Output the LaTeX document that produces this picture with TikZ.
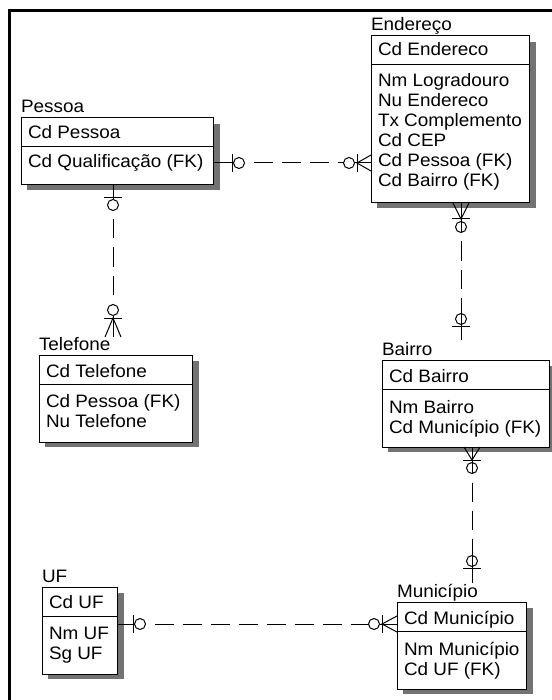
\documentclass[tikz,border=0pt]{standalone}
\usepackage{fontspec}
\setmainfont{Liberation Sans}[FakeStretch=1.05]
\usetikzlibrary{calc}
\newcommand{\erfont}{\fontsize{18}{20}\selectfont}
\tikzset{
  entbox/.style={draw, line width=1pt, fill=white, inner sep=0pt, outer sep=0pt, anchor=north west},
  shadowfill/.style={fill=black!55, draw=none},
  lbl/.style={anchor=base west, inner sep=0pt, outer sep=0pt, font=\erfont},
  rel/.style={line width=1pt},
  reldash/.style={line width=1pt, dash pattern=on 19pt off 9pt, dash phase=19pt},
}
% entity: name, left, top, width, number of attribute rows, title
\newcommand{\erentity}[6]{%
  \pgfmathsetmacro{\erh}{52+20*(#5-1)+15}
  \fill[shadowfill] (#2+6,#3+6) rectangle (#2+#4+7,#3+\erh+5);
  \node[entbox, minimum width=#4pt, minimum height=\erh pt] (#1) at (#2,#3) {};
  \draw[line width=1pt] (#2,#3+29) -- (#2+#4,#3+29);
  \node[lbl] (#1-title) at (#2,#3-5) {#6};
}
\newcommand{\errow}[4]{\node[lbl] (#1) at (#2,#3) {#4};}
% one end: point, angle, tick distance, out name
\newcommand{\onemark}[4]{%
  \begin{scope}[shift={(#1)}, rotate=#2, x=1pt, y=1pt]
    \draw[rel] (0,0) -- (#3+1.5,0);
    \draw[rel] (#3,-9) -- (#3,9);
    \draw[rel] (#3+7,0) circle[radius=5.5];
    \coordinate (#4i) at (#3+1.5,0);
    \coordinate (#4) at (#3+12.5,0);
  \end{scope}}
% many end: point, angle, junction distance, out name
\newcommand{\manymark}[4]{%
  \begin{scope}[shift={(#1)}, rotate=#2, x=1pt, y=1pt]
    \draw[rel] (0,8) -- (#3,0) -- (0,-8);
    \draw[rel] (0,0) -- (#3+2.5,0);
    \draw[rel] (#3,-9) -- (#3,9);
    \draw[rel] (#3+8,0) circle[radius=5.5];
    \coordinate (#4i) at (#3+2.5,0);
    \coordinate (#4) at (#3+13.5,0);
  \end{scope}}
\begin{document}
\begin{tikzpicture}[x=1pt, y=-1pt]
\useasboundingbox (0,0) rectangle (551,700);
\fill[white] (0,0) rectangle (551,700);
\draw[line width=3pt] (9,702) -- (9,11) -- (553,11);

% Pessoa
\erentity{pessoa}{21}{118}{192}{1}{Pessoa}
\errow{pessoa-k}{28}{139}{Cd Pessoa}
\errow{pessoa-a1}{28}{168}{Cd Qualificação (FK)}

% Endereco
\erentity{endereco}{371}{36}{158}{6}{Endereço}
\errow{endereco-k}{378}{56}{Cd Endereco}
\errow{endereco-a1}{378}{87}{Nm Logradouro}
\errow{endereco-a2}{378}{107}{Nu Endereco}
\errow{endereco-a3}{378}{127}{Tx Complemento}
\errow{endereco-a4}{378}{147}{Cd CEP}
\errow{endereco-a5}{378}{167}{Cd Pessoa (FK)}
\errow{endereco-a6}{378}{187}{Cd Bairro (FK)}

% Telefone
\erentity{telefone}{39}{355}{153}{2}{Telefone}
\errow{telefone-k}{46}{377}{Cd Telefone}
\errow{telefone-a1}{46}{407}{Cd Pessoa (FK)}
\errow{telefone-a2}{46}{427}{Nu Telefone}

% Bairro
\erentity{bairro}{382}{360}{167}{2}{Bairro}
\errow{bairro-k}{389}{382}{Cd Bairro}
\errow{bairro-a1}{389}{413}{Nm Bairro}
\errow{bairro-a2}{389}{433}{Cd Município (FK)}

% UF
\erentity{uf}{42}{587}{75}{2}{UF}
\errow{uf-k}{49}{608}{Cd UF}
\errow{uf-a1}{49}{639}{Nm UF}
\errow{uf-a2}{49}{659}{Sg UF}

% Municipio
\erentity{municipio}{397}{602}{129}{2}{Município}
\errow{municipio-k}{404}{624}{Cd Município}
\errow{municipio-a1}{404}{655}{Nm Município}
\errow{municipio-a2}{404}{675}{Cd UF (FK)}

% R1 Pessoa - Endereco
\coordinate (r1a) at (pessoa.east |- 0,163);
\coordinate (r1b) at (endereco.west |- 0,163);
\onemark{r1a}{0}{19}{r1ao}
\manymark{r1b}{180}{14}{r1bo}
\draw[reldash] (r1ao) -- (r1bo);

% R2 Pessoa - Telefone
\coordinate (r2a) at (pessoa.south -| 113,0);
\coordinate (r2b) at (113,337);
\onemark{r2a}{-90}{13}{r2ao}
\manymark{r2b}{90}{19}{r2bo}
\draw[reldash] (r2ao) -- (r2bo);

% R3 Endereco - Bairro
\coordinate (r3a) at (endereco.south -| 461,0);
\coordinate (r3b) at (461,340);
\manymark{r3a}{-90}{16}{r3ao}
\onemark{r3b}{90}{14}{r3bo}
\draw[rel] (r3aoi) -- (r3ao);
\draw[rel] (r3boi) -- (r3bo);
\draw[reldash] (r3ao) -- (r3bo);

% R4 Bairro - Municipio
\coordinate (r4a) at (bairro.south -| 472,0);
\coordinate (r4b) at (472,583);
\manymark{r4a}{-90}{13}{r4ao}
\onemark{r4b}{90}{15}{r4bo}
\draw[rel] (r4aoi) -- (r4ao);
\draw[rel] (r4boi) -- (r4bo);
\draw[reldash] (r4ao) -- (r4bo);

% R5 UF - Municipio
\coordinate (r5a) at (uf.east |- 0,624);
\coordinate (r5b) at (municipio.west |- 0,624);
\onemark{r5a}{0}{16}{r5ao}
\manymark{r5b}{180}{15}{r5bo}
\draw[reldash] (r5ao) -- (r5bo);
\end{tikzpicture}
\end{document}
